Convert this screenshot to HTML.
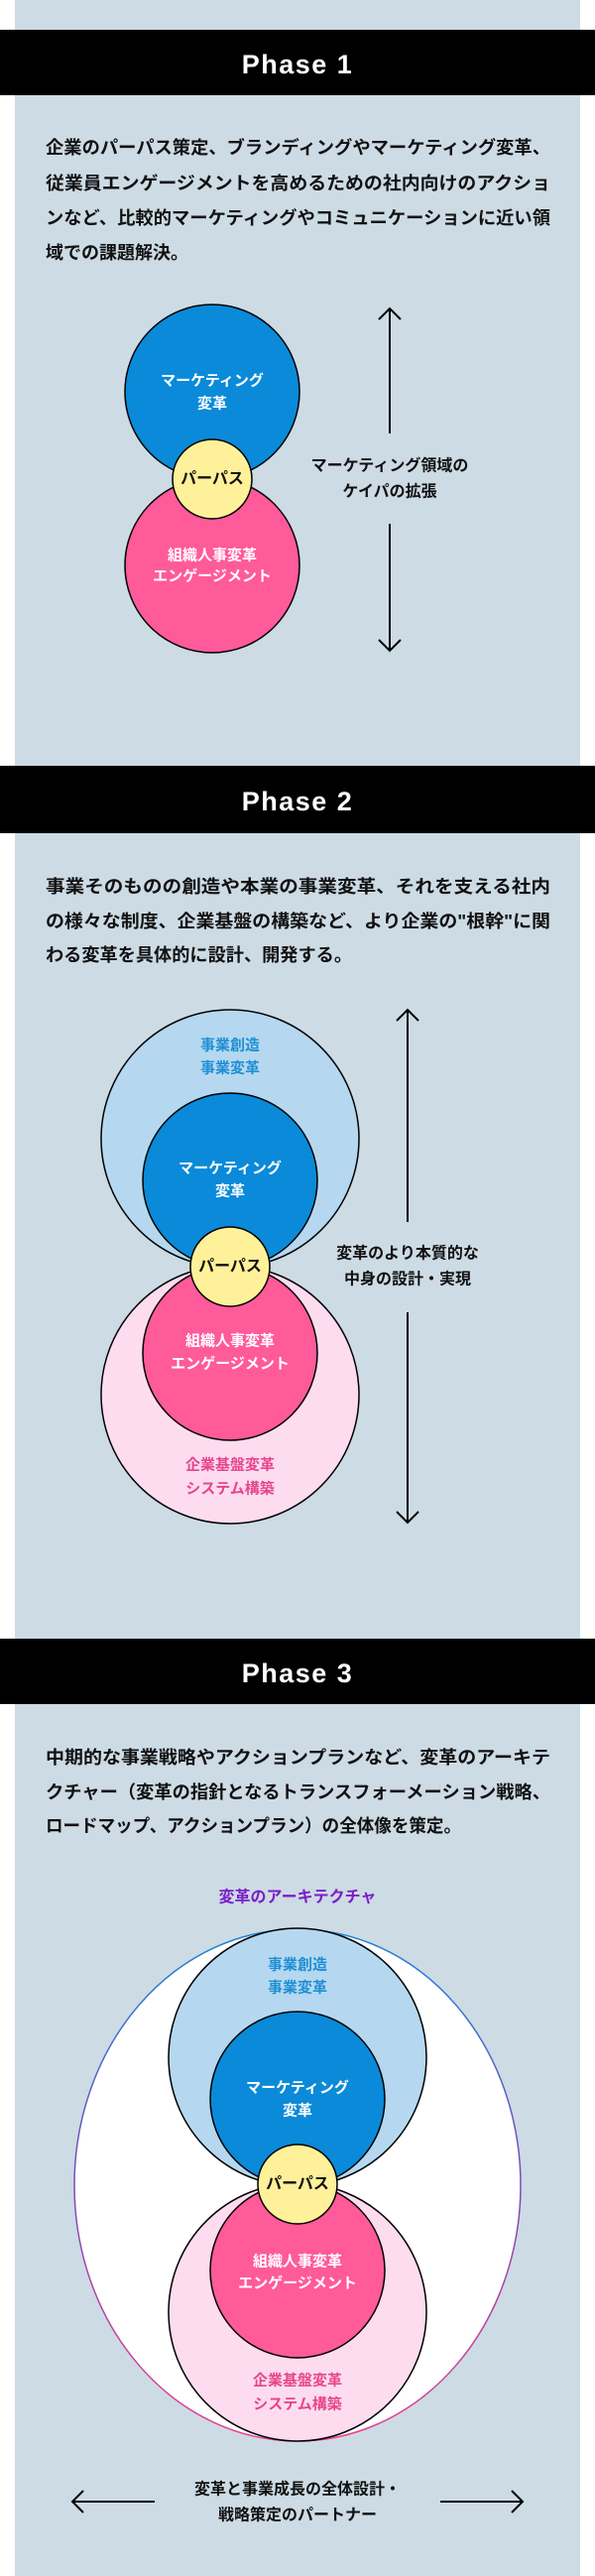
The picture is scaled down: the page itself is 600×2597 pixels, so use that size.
<!DOCTYPE html>
<html><head><meta charset="utf-8"><style>
html,body{margin:0;padding:0;background:#fff;}
svg{display:block}
text{font-family:"Liberation Sans","Noto Sans CJK JP",sans-serif;font-weight:bold;}
</style></head><body>
<svg width="600" height="2597" viewBox="0 0 600 2597" xmlns="http://www.w3.org/2000/svg">
<defs>
<linearGradient id="g" x1="0" y1="0" x2="0" y2="1">
<stop offset="0" stop-color="#1a86d6"/><stop offset="0.5" stop-color="#7a4bb8"/><stop offset="1" stop-color="#ee3f8a"/>
</linearGradient>
</defs>
<rect x="0" y="0" width="600" height="2597" fill="#fff"/>
<rect x="15" y="0" width="570" height="2597" fill="#cddbe5"/>
<!-- bands -->
<rect x="0" y="30" width="600" height="66" fill="#000"/>
<text x="300" y="65" fill="#fff" font-size="27" text-anchor="middle" dominant-baseline="central" letter-spacing="1.5">Phase 1</text>
<rect x="0" y="772" width="600" height="68" fill="#000"/>
<text x="300" y="808" fill="#fff" font-size="27" text-anchor="middle" dominant-baseline="central" letter-spacing="1.5">Phase 2</text>
<rect x="0" y="1652" width="600" height="66" fill="#000"/>
<text x="300" y="1687" fill="#fff" font-size="27" text-anchor="middle" dominant-baseline="central" letter-spacing="1.5">Phase 3</text>

<g font-size="18" fill="#111" dominant-baseline="central">
<text x="46" y="149" textLength="509" lengthAdjust="spacingAndGlyphs">企業のパーパス策定、ブランディングやマーケティング変革、</text>
<text x="46" y="185" textLength="509" lengthAdjust="spacingAndGlyphs">従業員エンゲージメントを高めるための社内向けのアクショ</text>
<text x="46" y="220" textLength="509" lengthAdjust="spacingAndGlyphs">ンなど、比較的マーケティングやコミュニケーションに近い領</text>
<text x="46" y="255">域での課題解決。</text>

<text x="46" y="894" textLength="509" lengthAdjust="spacingAndGlyphs">事業そのものの創造や本業の事業変革、それを支える社内</text>
<text x="46" y="929" textLength="509" lengthAdjust="spacingAndGlyphs">の様々な制度、企業基盤の構築など、より企業の"根幹"に関</text>
<text x="46" y="963" textLength="309" lengthAdjust="spacingAndGlyphs">わる変革を具体的に設計、開発する。</text>

<text x="46" y="1772" textLength="509" lengthAdjust="spacingAndGlyphs">中期的な事業戦略やアクションプランなど、変革のアーキテ</text>
<text x="46" y="1807" textLength="509" lengthAdjust="spacingAndGlyphs">クチャー（変革の指針となるトランスフォーメーション戦略、</text>
<text x="46" y="1841" textLength="419" lengthAdjust="spacingAndGlyphs">ロードマップ、アクションプラン）の全体像を策定。</text>
</g>

<!-- Phase 1 diagram -->
<g stroke="#000" stroke-width="1.5">
<circle cx="214" cy="395" r="88" fill="#0a8ad8"/>
<circle cx="214" cy="570" r="88" fill="#ff5a9a"/>
<circle cx="214" cy="483" r="40" fill="#fff199"/>
</g>
<g font-size="15" text-anchor="middle" dominant-baseline="central">
<text x="214" y="384" fill="#fff">マーケティング</text>
<text x="214" y="407" fill="#fff">変革</text>
<text x="214" y="560" fill="#fff">組織人事変革</text>
<text x="214" y="581" fill="#fff">エンゲージメント</text>
<text x="214" y="483" fill="#111" font-size="16">パーパス</text>
<text x="393" y="470" fill="#111" font-size="16">マーケティング領域の</text>
<text x="393" y="496" fill="#111" font-size="16">ケイパの拡張</text>
</g>
<g stroke="#000" stroke-width="2" fill="none">
<path d="M393 311 V437 M382 322 L393 311 L404 322"/>
<path d="M393 528 V656 M382 645 L393 656 L404 645"/>
</g>

<!-- Phase 2 diagram -->
<g stroke="#000" stroke-width="1.5">
<circle cx="232" cy="1148" r="130" fill="#b5d8f0"/>
<circle cx="232" cy="1406" r="130" fill="#fddcf0"/>
<circle cx="232" cy="1190" r="88" fill="#0a8ad8"/>
<circle cx="232" cy="1364" r="88" fill="#ff5a9a"/>
<circle cx="232" cy="1277" r="40" fill="#fff199"/>
</g>
<g font-size="15" text-anchor="middle" dominant-baseline="central">
<text x="232" y="1054" fill="#1f8fd4">事業創造</text>
<text x="232" y="1077" fill="#1f8fd4">事業変革</text>
<text x="232" y="1178" fill="#fff">マーケティング</text>
<text x="232" y="1201" fill="#fff">変革</text>
<text x="232" y="1352" fill="#fff">組織人事変革</text>
<text x="232" y="1375" fill="#fff">エンゲージメント</text>
<text x="232" y="1477" fill="#e8458b">企業基盤変革</text>
<text x="232" y="1501" fill="#e8458b">システム構築</text>
<text x="232" y="1277" fill="#111" font-size="16">パーパス</text>
<text x="411" y="1264" fill="#111" font-size="16">変革のより本質的な</text>
<text x="411" y="1290" fill="#111" font-size="16">中身の設計・実現</text>
</g>
<g stroke="#000" stroke-width="2" fill="none">
<path d="M411 1018 V1232 M400 1029 L411 1018 L422 1029"/>
<path d="M411 1323 V1535 M400 1524 L411 1535 L422 1524"/>
</g>

<!-- Phase 3 diagram -->
<text x="300" y="1913" fill="#7a1fc8" font-size="16" text-anchor="middle" dominant-baseline="central">変革のアーキテクチャ</text>
<ellipse cx="300" cy="2203" rx="225" ry="258" fill="#fff" stroke="url(#g)" stroke-width="1.5"/>
<g stroke="#000" stroke-width="1.5">
<circle cx="300" cy="2074" r="130" fill="#b5d8f0"/>
<circle cx="300" cy="2331" r="130" fill="#fddcf0"/>
<circle cx="300" cy="2116" r="88" fill="#0a8ad8"/>
<circle cx="300" cy="2289" r="88" fill="#ff5a9a"/>
<circle cx="300" cy="2202" r="40" fill="#fff199"/>
</g>
<g font-size="15" text-anchor="middle" dominant-baseline="central">
<text x="300" y="1981" fill="#1f8fd4">事業創造</text>
<text x="300" y="2004" fill="#1f8fd4">事業変革</text>
<text x="300" y="2105" fill="#fff">マーケティング</text>
<text x="300" y="2128" fill="#fff">変革</text>
<text x="300" y="2280" fill="#fff">組織人事変革</text>
<text x="300" y="2302" fill="#fff">エンゲージメント</text>
<text x="300" y="2400" fill="#e8458b">企業基盤変革</text>
<text x="300" y="2424" fill="#e8458b">システム構築</text>
<text x="300" y="2202" fill="#111" font-size="16">パーパス</text>
<text x="300" y="2510" fill="#111" font-size="16">変革と事業成長の全体設計・</text>
<text x="300" y="2536" fill="#111" font-size="16">戦略策定のパートナー</text>
</g>
<g stroke="#000" stroke-width="2" fill="none">
<path d="M73 2522 H156 M84 2511 L73 2522 L84 2533"/>
<path d="M444 2522 H527 M516 2511 L527 2522 L516 2533"/>
</g>
</svg>
</body></html>
